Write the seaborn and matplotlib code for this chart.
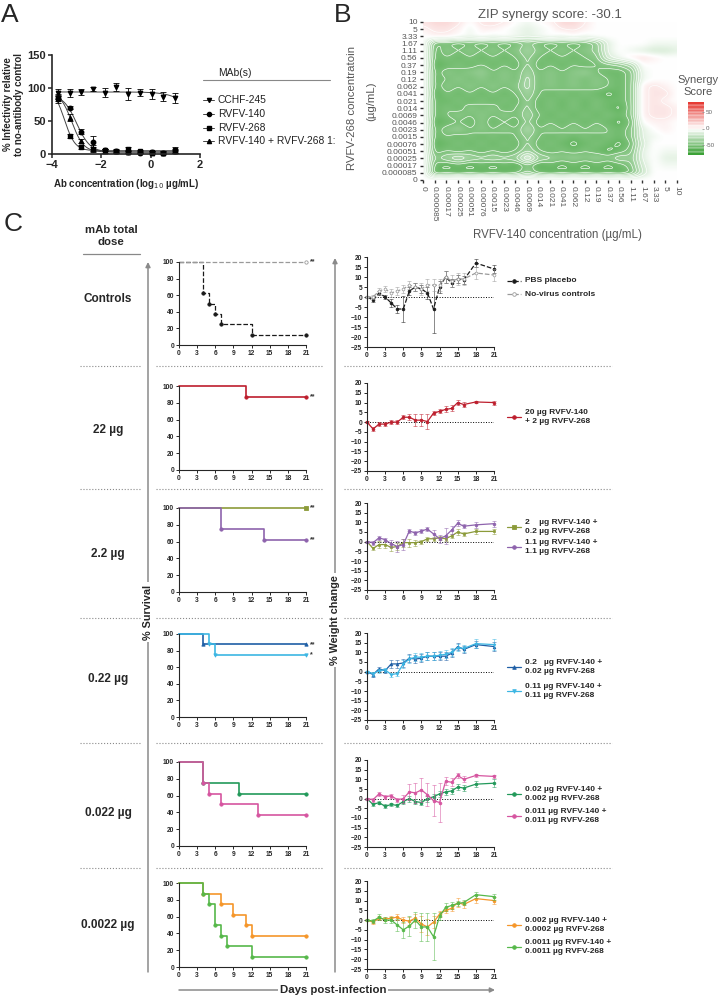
import numpy as np
import matplotlib
matplotlib.use('Agg')
import matplotlib.pyplot as plt
from matplotlib.colors import LinearSegmentedColormap
import seaborn as sns

# Panel A: neutralization curves
log_conc = [-3.77, -3.29, -2.82, -2.34, -1.86, -1.39, -0.91, -0.43, 0.05, 0.52, 1.0]
cchf_245 = [93, 93, 94, 98, 93, 101, 91, 93, 91, 87, 85]
cchf_245_err = [5, 6, 4, 3, 7, 6, 9, 5, 7, 7, 8]
rvfv_140 = [85, 70, 34, 18, 6, 4, 3, 2, 3, 2, 4]
rvfv_140_err = [4, 2, 4, 10, 2, 2, 2, 1, 2, 1, 2]
rvfv_268 = [83, 27, 11, 8, 6, 5, 8, 4, 3, 2, 6]
rvfv_268_err = [5, 3, 3, 3, 2, 2, 2, 2, 2, 2, 4]
combo_1to1 = [87, 55, 20, 8, 5, 4, 3, 3, 2, 2, 5]
combo_1to1_err = [4, 5, 3, 5, 3, 2, 2, 2, 2, 2, 3]
mab_names = ['CCHF-245', 'RVFV-140', 'RVFV-268', 'RVFV-140 + RVFV-268 1:']
# fitted 4PL parameters (top, bottom, logIC50, hill slope)
fit_top = [94, 90, 100, 95]
fit_bottom = [0, 3, 5, 3]
fit_logic50 = [2.0, -3.0, -3.5, -3.2]
fit_slope = [1.0, 1.6, 2.0, 1.8]

# Panel B: ZIP synergy surface (rows from 10 down to 0)
conc_labels = ['0', '0.000085', '0.00017', '0.00025', '0.00051', '0.00076', '0.0015',
               '0.0023', '0.0046', '0.0069', '0.014', '0.021', '0.041', '0.062', '0.12',
               '0.19', '0.37', '0.56', '1.11', '1.67', '3.33', '5', '10']
synergy_rows = [
    "10 15 15 10 0 10 12 8 0 -5 0 5 15 15 8 0 0 0 0 0 0 0 0",
    "5 10 10 5 -5 5 5 0 -5 -10 -5 0 8 10 5 0 0 0 0 0 0 0 0",
    "0 5 5 0 -5 0 -5 0 -5 -10 -5 0 -5 0 -5 0 0 0 0 0 0 0 0",
    "0 -50 -50 -55 -50 -55 -50 -55 -50 -40 -50 -55 -50 -55 -50 -40 -10 0 0 0 -5 -5 -5",
    "0 -55 -45 -50 -45 -50 -45 -50 -45 -35 -45 -50 -45 -50 -45 -40 -10 0 -5 -10 -15 -15 -10",
    "0 -55 -50 -55 -50 -55 -50 -55 -50 -40 -50 -55 -50 -55 -50 -45 -15 -5 5 10 5 0 0",
    "0 -60 -55 -50 -55 -50 -55 -50 -55 -40 -55 -50 -55 -50 -55 -50 -45 -40 -30 0 0 0 0",
    "0 -55 -45 -50 -45 -40 -50 -45 -50 -35 -50 -45 -50 -45 -40 -50 -55 -55 -45 -5 0 0 0",
    "0 -55 -50 -45 -50 -45 -50 -45 -50 -30 -50 -45 -50 -45 -50 -45 -50 -55 -45 -5 0 0 0",
    "0 -55 -45 -50 -45 -50 -45 -50 -45 -30 -50 -45 -50 -45 -50 -45 -50 -55 -45 5 10 5 0",
    "0 -60 -50 -55 -50 -55 -50 -55 -50 -35 -50 -55 -50 -55 -50 -55 -60 -55 -45 5 10 10 0",
    "0 -55 -55 -50 -55 -50 -55 -50 -55 -40 -55 -50 -55 -50 -55 -50 -55 -55 -45 5 10 5 0",
    "0 -55 -50 -55 -45 -50 -45 -55 -50 -40 -55 -50 -55 -50 -55 -50 -55 -60 -45 5 10 10 5",
    "0 -55 -50 -45 -50 -45 -50 -45 -50 -35 -50 -55 -50 -55 -50 -55 -50 -55 -45 5 10 10 5",
    "0 -60 -55 -50 -55 -45 -55 -50 -55 -40 -55 -50 -55 -50 -55 -50 -55 -60 -50 0 5 5 0",
    "0 -55 -45 -40 -50 -45 -50 -45 -50 -30 -50 -45 -50 -45 -50 -45 -50 -55 -45 -10 0 5 0",
    "0 -55 -50 -55 -50 -55 -50 -55 -50 -40 -50 -55 -50 -55 -50 -55 -50 -55 -45 -10 -5 0 0",
    "0 -60 -55 -50 -55 -50 -55 -50 -55 -40 -55 -50 -55 -60 -55 -50 -55 -60 -50 -15 0 0 0",
    "0 -55 -50 -55 -50 -55 -50 -55 -50 -35 -50 -55 -50 -55 -50 -55 -60 -55 -45 -10 0 -5 -5",
    "0 -45 -35 -25 -35 -40 -35 -40 -35 -5 -35 -40 -45 -40 -45 -40 -45 -35 -40 -10 0 -10 -10",
    "0 -55 -60 -55 -60 -55 -60 -55 -60 -45 -60 -55 -60 -55 -60 -55 -60 -55 -45 -15 0 -5 -5",
    "0 -60 -55 -60 -55 -60 -55 -60 -55 -40 -55 -60 -55 -60 -55 -60 -55 -60 -50 -20 0 0 0",
    "0 0 0 0 0 0 0 0 0 0 0 0 0 0 0 0 0 0 0 0 0 0 0",
]
zip_score = -30.1
cbar_ticks = [-50, 0, 50]

# Panel C: survival (Kaplan-Meier steps)
surv_pbs_days, surv_pbs = [0, 4, 5, 6, 7, 12, 21], [100, 62.5, 50, 37.5, 25, 12.5, 12.5]
surv_novirus_days, surv_novirus = [0, 21], [100, 100]
surv_22_days, surv_22 = [0, 11, 21], [100, 87.5, 87.5]
surv_2_days, surv_2 = [0, 21], [100, 100]
surv_1p1_days, surv_1p1 = [0, 7, 14, 21], [100, 75, 62.5, 62.5]
surv_0p2_days, surv_0p2 = [0, 4, 21], [100, 87.5, 87.5]
surv_0p11_days, surv_0p11 = [0, 5, 6, 21], [100, 87.5, 75, 75]
surv_0p02_days, surv_0p02 = [0, 4, 10, 21], [100, 75, 62.5, 62.5]
surv_0p011_days, surv_0p011 = [0, 4, 5, 7, 13, 21], [100, 75, 62.5, 50, 37.5, 37.5]
surv_0p002_days, surv_0p002 = [0, 4, 7, 9, 11, 12, 21], [100, 87.5, 75, 62.5, 50, 37.5, 37.5]
surv_0p0011_days, surv_0p0011 = [0, 4, 5, 6, 7, 8, 12, 21], [100, 87.5, 75, 50, 37.5, 25, 12.5, 12.5]

# Panel C: weight change
weight_days = [0, 1, 2, 3, 4, 5, 6, 7, 8, 9, 10, 11, 12, 13, 14, 15, 16, 18, 21]
w_pbs = [0, -1.5, 2, 0, -3, -6, -6, 3, 5, 4, 2, -6, 5, 10, 7, 9, 8.5, 17, 14]
w_pbs_err = [0.5, 1, 1, 1, 2, 2, 6.5, 2, 2, 2, 3, 12, 3, 3, 2, 2, 2, 2, 2]
w_novirus = [0, 0, 3, 4, 2, 3, 4, 6, 5, 4, 6, 6, 6, 10, 8, 9, 9, 12, 11]
w_novirus_err = [0.5, 1, 1.5, 1.5, 2, 2, 2, 2, 2, 3, 3, 3, 3, 3, 3, 3, 3, 3, 3]
w_22 = [0, -3.5, -1, -1, 0, 0, 2.5, 2.5, 1, 1, 0.3, 4.6, 5.5, 6.5, 7, 10, 9, 10.3, 10]
w_22_err = [0.5, 1, 1, 1, 1, 1, 1, 1.5, 3, 3, 4, 1, 1, 1.5, 1.5, 1.5, 1.5, 0.5, 1]
w_2 = [0, -3.5, -1.5, -1.5, -3, -2.5, -0.5, -0.5, -0.5, 0, 1.5, 1.5, 2, 1.5, 3, 5, 4, 5.3, 5.3]
w_2_err = [0.5, 1, 2, 2, 2, 2, 2, 2, 1.5, 1, 1, 1, 1, 1, 1, 1.5, 1, 1.5, 1.5]
w_1p1 = [0, -0.5, 2, 1, -1, -2.5, -1.5, 5.5, 4.5, 5.5, 6.5, 4, 1.5, 3, 6, 9.5, 8, 8.7, 9.3]
w_1p1_err = [0.5, 1, 1, 1, 2, 3, 3, 1, 1, 1, 1, 2, 2, 4, 2, 1.5, 1, 1.5, 1.5]
w_0p2 = [0, -1.5, 1.5, 0.5, 4, 4, 4.5, 7, 6.5, 7, 8, 8, 8, 8, 9.5, 13, 11.5, 14, 13]
w_0p2_err = [0.5, 1, 1, 1, 2, 2, 2, 2, 2, 2, 2, 2, 2, 2, 2, 2, 2, 2, 2.5]
w_0p11 = [0, -1, 0.5, 1, -1.5, -1, 4, 6.5, 7.5, 7.5, 8, 8, 8.5, 9, 10, 12.5, 12, 14.5, 14]
w_0p11_err = [0.5, 1, 1, 1, 1, 1, 2, 2, 2, 2, 2, 2, 2, 2, 2, 2, 2, 2.5, 3]
w_0p02 = [0, -3, -2, -4, -3, -3.5, -1.5, 0, -1.5, -2, 0, 1, 2.5, 3.5, 4, 6, 5.5, 7.5, 8]
w_0p02_err = [0.5, 1, 1, 1, 1, 1, 1.5, 1.5, 1.5, 1.5, 1.5, 1.5, 1.5, 1.5, 1.5, 1.5, 1.5, 1.5, 2]
w_0p011 = [0, -0.5, 2.5, 1, 1.5, -0.5, 0, 3.5, 3, 4.5, 2, -1, -2, 9, 8.5, 12, 10, 12, 11.5]
w_0p011_err = [0.5, 1, 1, 1, 1, 1, 2, 4, 5, 6, 6, 8, 10, 2, 2, 1.5, 1.5, 1, 1]
w_0p002 = [0, -1, 1, 0.5, 1, 1.5, 0, -0.5, 1, -2, -3.5, -1, 3, 5, 6, 9, 8, 11, 10]
w_0p002_err = [0.5, 1, 1, 1, 1, 1.5, 1.5, 2, 2, 4, 4, 3, 1.5, 1.5, 1.5, 2.5, 2, 2, 2]
w_0p0011 = [0, -0.5, 1.5, 0, 0, -2.5, -5, -3, 0, -3.5, -3.5, -8.5, 2, 6.5, 7.5, 8.5, 9, 13, 12]
w_0p0011_err = [0.5, 1, 1.5, 1.5, 1.5, 3, 4, 5, 4, 7, 7, 12, 2, 2, 2, 1.5, 1.5, 1.5, 1.5]

dose_labels = ['Controls', '22 µg', '2.2 µg', '0.22 µg', '0.022 µg', '0.0022 µg']

sns.set_theme(style='ticks')
plt.rcParams['font.family'] = ['Liberation Sans', 'DejaVu Sans']
plt.rcParams['axes.linewidth'] = 0.8

W, H = 719, 999
fig = plt.figure(figsize=(W / 100, H / 100), dpi=100)


def add_ax(l, t, r, b):
    return fig.add_axes([l / W, 1 - b / H, (r - l) / W, (b - t) / H])


# ---------------- Panel A ----------------
axA = add_ax(52, 55, 200, 154)
xfit = np.linspace(-3.8, 1.0, 200)
a_series = [(cchf_245, cchf_245_err, 'v'), (rvfv_140, rvfv_140_err, 'o'),
            (rvfv_268, rvfv_268_err, 's'), (combo_1to1, combo_1to1_err, '^')]
for i, (vals, errs, mk) in enumerate(a_series):
    yfit = fit_bottom[i] + (fit_top[i] - fit_bottom[i]) / (1 + 10 ** (fit_slope[i] * (xfit - fit_logic50[i])))
    sns.lineplot(x=xfit, y=yfit, color='#444444', lw=0.7, ax=axA)
    axA.errorbar(log_conc, vals, yerr=errs, fmt=mk, color='black', ms=3.2,
                 capsize=2, elinewidth=0.6, capthick=0.6, clip_on=False)
axA.set_xlim(-4, 2)
axA.set_ylim(0, 150)
axA.set_xticks([-4, -2, 0, 2])
axA.set_yticks([0, 50, 100, 150])
for s in ['top', 'right']:
    axA.spines[s].set_visible(False)
for s in ['left', 'bottom']:
    axA.spines[s].set_linewidth(1.2)
axA.tick_params(length=3, width=1.1, labelsize=8, pad=1.5)
for t in axA.get_xticklabels() + axA.get_yticklabels():
    t.set_fontweight('bold')
axA.set_ylabel('% Infectivity relative\nto no-antibody control', fontsize=7, fontweight='bold', labelpad=2)
axA.set_xlabel('Ab concentration (log$_{10}$ µg/mL)', fontsize=7, fontweight='bold', labelpad=5)

# ---------------- Panel B ----------------
z = np.array([[float(v) for v in r.split()] for r in synergy_rows])[::-1]


def smooth_grid(zz, up=10, sigma=2.5):
    n = zz.shape[0]
    fine = np.linspace(0, n - 1, (n - 1) * up + 1)
    base = np.arange(n)
    zr = np.array([np.interp(fine, base, r) for r in zz])
    zf = np.array([np.interp(fine, base, c) for c in zr.T]).T
    k = np.arange(-3 * sigma, 3 * sigma + 1)
    k = np.exp(-k ** 2 / (2 * sigma ** 2))
    k /= k.sum()
    pad = len(k) // 2
    zp = np.pad(zf, pad, mode='edge')
    zp = np.apply_along_axis(lambda v: np.convolve(v, k, mode='same'), 0, zp)
    zp = np.apply_along_axis(lambda v: np.convolve(v, k, mode='same'), 1, zp)
    return fine, zp[pad:-pad, pad:-pad]


fine, zs = smooth_grid(z)
syn_cmap = LinearSegmentedColormap.from_list('syn', [(0, '#2f9c2a'), (0.5, '#ffffff'), (1, '#e5302a')])
axB = add_ax(423, 22, 677, 180)
axB.imshow(zs, origin='lower', extent=(0, 22, 0, 22), cmap=syn_cmap, vmin=-80, vmax=80,
           aspect='auto', interpolation='bilinear')
axB.contour(fine, fine, zs, levels=[-65, -57.5, -50, -42.5, -35, -27.5, -20, -12.5, 7.5, 15, 22.5],
            colors='white', linewidths=0.45, linestyles='solid')
axB.set_xlim(0, 22)
axB.set_ylim(0, 22)
axB.set_xticks(range(23))
axB.set_yticks(range(23))
axB.set_xticklabels(conc_labels, rotation=270, fontsize=6, color='#555555')
axB.set_yticklabels(conc_labels, fontsize=6, color='#555555')
axB.tick_params(length=2.5, width=1, color='#333333', pad=1.5)
for s in axB.spines.values():
    s.set_visible(False)
axB.set_title(f'ZIP synergy score: {zip_score}', fontsize=9.5, color='#555555', pad=3)

# stepped colour bar
cax = add_ax(688, 102, 704, 155)
steps = np.arange(-75, 80, 10)
cax.imshow(steps[:, None], origin='lower', extent=(0, 1, -80, 80), cmap=syn_cmap, vmin=-80, vmax=80,
           aspect='auto', interpolation='nearest')
for b in np.arange(-70, 80, 10):
    cax.axhline(b, color='white', lw=0.35)
cax.set_xlim(0, 1)
cax.set_ylim(-80, 80)
cax.set_xticks([])
cax.yaxis.tick_right()
cax.set_yticks(cbar_ticks)
cax.set_yticklabels([str(t) for t in cbar_ticks])
cax.tick_params(axis='y', length=1.5, width=0.5, labelsize=4.5, colors='#666666', pad=1, direction='in')
for s in cax.spines.values():
    s.set_visible(False)

# ---------------- Panel C ----------------
surv_rows = [(262, 345), (386, 470), (508, 592), (634, 717), (762, 846), (883, 967)]
weight_rows = [(257, 347), (383, 471), (503, 590), (633, 720), (760, 847), (881, 969)]

rows = [
    [dict(d=surv_pbs_days, s=surv_pbs, w=w_pbs, e=w_pbs_err, c='#1a1a1a', m='o', ls='--', star='', mfc=None,
          lab='PBS placebo'),
     dict(d=surv_novirus_days, s=surv_novirus, w=w_novirus, e=w_novirus_err, c='#9a9a9a', m='o', ls='--',
          star='**', mfc='white', lab='No-virus controls')],
    [dict(d=surv_22_days, s=surv_22, w=w_22, e=w_22_err, c='#bd1e2d', m='o', ls='-', star='**', mfc=None,
          lab='20 µg RVFV-140\n+ 2 µg RVFV-268')],
    [dict(d=surv_2_days, s=surv_2, w=w_2, e=w_2_err, c='#8c9b3a', m='s', ls='-', star='**', mfc=None,
          lab='2    µg RVFV-140 +\n0.2 µg RVFV-268'),
     dict(d=surv_1p1_days, s=surv_1p1, w=w_1p1, e=w_1p1_err, c='#8e63ad', m='o', ls='-', star='**', mfc=None,
          lab='1.1 µg RVFV-140 +\n1.1 µg RVFV-268')],
    [dict(d=surv_0p2_days, s=surv_0p2, w=w_0p2, e=w_0p2_err, c='#1f5fa6', m='^', ls='-', star='**', mfc=None,
          lab='0.2   µg RVFV-140 +\n0.02 µg RVFV-268'),
     dict(d=surv_0p11_days, s=surv_0p11, w=w_0p11, e=w_0p11_err, c='#3cb6e3', m='v', ls='-', star='*', mfc=None,
          lab='0.11 µg RVFV-140 +\n0.11 µg RVFV-268')],
    [dict(d=surv_0p02_days, s=surv_0p02, w=w_0p02, e=w_0p02_err, c='#22995a', m='o', ls='-', star='', mfc=None,
          lab='0.02 µg RVFV-140 +\n0.002 µg RVFV-268'),
     dict(d=surv_0p011_days, s=surv_0p011, w=w_0p011, e=w_0p011_err, c='#d655a0', m='o', ls='-', star='', mfc=None,
          lab='0.011 µg RVFV-140 +\n0.011 µg RVFV-268')],
    [dict(d=surv_0p002_days, s=surv_0p002, w=w_0p002, e=w_0p002_err, c='#f5962a', m='o', ls='-', star='', mfc=None,
          lab='0.002 µg RVFV-140 +\n0.0002 µg RVFV-268'),
     dict(d=surv_0p0011_days, s=surv_0p0011, w=w_0p0011, e=w_0p0011_err, c='#56b84a', m='o', ls='-', star='',
          mfc=None, lab='0.0011 µg RVFV-140 +\n0.0011 µg RVFV-268')],
]
legend_y = [[281, 294], [417], [527, 547], [667, 691], [794, 816], [925, 947]]
label_y = [299, 430, 554, 679, 813, 925]
sep_y = [366, 489, 618, 743, 868]


def style_c(ax):
    for s in ['top', 'right']:
        ax.spines[s].set_visible(False)
    ax.tick_params(length=2, width=0.7, labelsize=4.8, pad=1.5)
    for t in ax.get_xticklabels() + ax.get_yticklabels():
        t.set_fontweight('bold')


for r, series in enumerate(rows):
    axs = add_ax(179, surv_rows[r][0], 306, surv_rows[r][1])
    axw = add_ax(367, weight_rows[r][0], 494, weight_rows[r][1])
    axw.axhline(0, color='black', ls=':', lw=0.7)
    for sr in series:
        lw = 0.9 if sr['ls'] == '--' else 1.2
        sns.lineplot(x=sr['d'], y=sr['s'], color=sr['c'], lw=lw, ls=sr['ls'], drawstyle='steps-post',
                     errorbar=None, ax=axs, clip_on=False)
        mfc = sr['mfc'] if sr['mfc'] else sr['c']
        axs.plot(sr['d'][1:], sr['s'][1:], ls='none', marker=sr['m'], ms=2.4, color=sr['c'],
                 mfc=mfc, mew=0.6, clip_on=False)
        if sr['star']:
            axs.text(21.7, sr['s'][-1], sr['star'], fontsize=5, fontweight='bold', va='center', color='#333333')
        axw.errorbar(weight_days, sr['w'], yerr=sr['e'], fmt='none', ecolor=sr['c'], elinewidth=0.6,
                     capsize=1.2, capthick=0.6, alpha=0.6, clip_on=False)
        sns.lineplot(x=weight_days, y=sr['w'], color=sr['c'], lw=0.9, ls=sr['ls'], marker=sr['m'], ms=2.0,
                     mfc=mfc, mec=sr['c'], mew=0.5, errorbar=None, ax=axw, clip_on=False)
    axs.set_xlim(0, 21)
    axs.set_ylim(0, 100)
    axs.set_xticks(range(0, 22, 3))
    axs.set_yticks(range(0, 101, 20))
    axw.set_xlim(0, 21)
    axw.set_ylim(-25, 20)
    axw.set_xticks(range(0, 22, 3))
    axw.set_yticks(range(-25, 21, 5))
    style_c(axs)
    style_c(axw)

# overlay for annotations in pixel coordinates
ov = fig.add_axes([0, 0, 1, 1], facecolor='none')
ov.set_xlim(0, W)
ov.set_ylim(H, 0)
ov.axis('off')

ov.text(10, 15, 'A', fontsize=19, ha='center', va='center')
ov.text(343, 15, 'B', fontsize=19, ha='center', va='center')
ov.text(13, 224, 'C', fontsize=19, ha='center', va='center')

# Panel A legend
ov.text(218, 73, 'MAb(s)', fontsize=7.4, ha='left', va='center', color='#222222')
ov.plot([203, 330], [80, 80], color='#888888', lw=0.8)
a_marks = ['v', 'o', 's', '^']
for i, name in enumerate(mab_names):
    yy = [100, 114, 128, 141][i]
    ov.plot([203, 214], [yy, yy], color='#444444', lw=0.7)
    ov.plot([208.5], [yy], marker=a_marks[i], color='black', ms=3.0)
    ov.text(218, yy, name, fontsize=7.4, ha='left', va='center', color='#222222')

# Panel B labels
ov.text(352, 108, 'RVFV-268 concentratoin', rotation=90, fontsize=8.2, color='#555555', ha='center', va='center')
ov.text(371, 101, '(µg/mL)', rotation=90, fontsize=8.2, color='#555555', ha='center', va='center')
ov.text(557, 235, 'RVFV-140 concentration (µg/mL)', fontsize=8.3, color='#555555', ha='center', va='center')
ov.text(698, 80, 'Synergy', fontsize=8, color='#555555', ha='center', va='center')
ov.text(698, 92, 'Score', fontsize=8, color='#555555', ha='center', va='center')

# Panel C labels
ov.text(111, 236, 'mAb total\ndose', fontsize=8.2, fontweight='bold', ha='center', va='center', linespacing=1.3)
ov.plot([83, 140], [254, 254], color='#888888', lw=0.9)
for lab, yy in zip(dose_labels, label_y):
    ov.text(108, yy, lab, fontsize=8.5, fontweight='bold', ha='center', va='center')
for yy in sep_y:
    for x0, x1 in [(80, 140), (156, 323), (344, 612)]:
        ov.plot([x0, x1], [yy, yy], color='#8a8a8a', lw=0.8, ls=':')

arrow_kw = dict(arrowstyle='-|>', color='#8a8a8a', lw=1.1, mutation_scale=7, shrinkA=0, shrinkB=0)
ov.annotate('', xy=(148, 262), xytext=(148, 972), arrowprops=arrow_kw)
ov.annotate('', xy=(335, 258), xytext=(335, 972), arrowprops=arrow_kw)
ov.annotate('', xy=(495, 990), xytext=(179, 990), arrowprops=arrow_kw)
box = dict(facecolor='white', edgecolor='none', pad=1.5)
ov.text(148, 612, '% Survival', rotation=90, fontsize=7.8, fontweight='bold', ha='center', va='center', bbox=box)
ov.text(335, 620, '% Weight change', rotation=90, fontsize=7.8, fontweight='bold', ha='center', va='center',
        bbox=box)
ov.text(333, 990, 'Days post-infection', fontsize=8.2, fontweight='bold', ha='center', va='center', bbox=box)

# Panel C legends
for r, series in enumerate(rows):
    for sr, yy in zip(series, legend_y[r]):
        mfc = sr['mfc'] if sr['mfc'] else sr['c']
        ov.plot([507, 521], [yy, yy], color=sr['c'], lw=0.9, ls=sr['ls'])
        ov.plot([514], [yy], marker=sr['m'], ms=2.6, color=sr['c'], mfc=mfc, mew=0.6)
        ov.text(525, yy, sr['lab'], fontsize=6, fontweight='bold', ha='left', va='center', linespacing=1.25)

fig.savefig('out.png', dpi=100)
